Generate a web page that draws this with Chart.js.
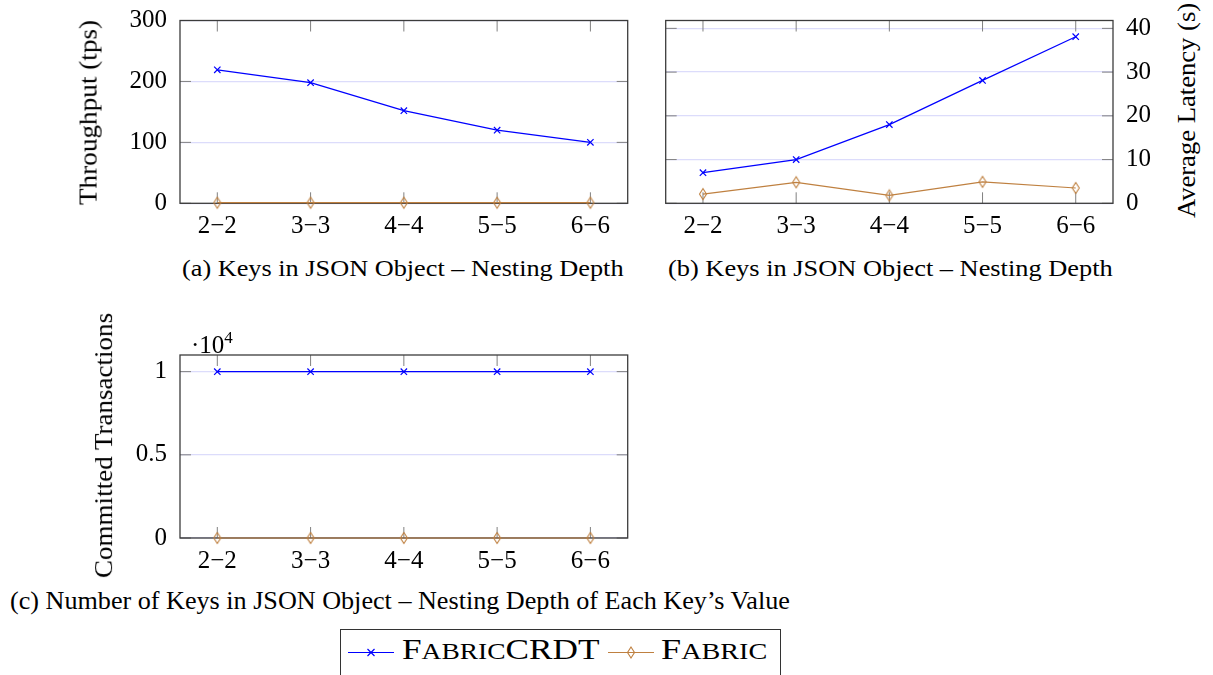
<!DOCTYPE html>
<html>
<head>
<meta charset="utf-8">
<script src="https://cdn.jsdelivr.net/npm/chart.js@4.4.1/dist/chart.umd.min.js"></script>
<style>
  html, body { margin: 0; padding: 0; background: #fff; overflow: hidden; }
  body { width: 1213px; height: 675px; position: relative; font-family: "Liberation Serif", "DejaVu Serif", serif; color: #000; }
  canvas { position: absolute; }
  .txt { position: absolute; white-space: nowrap; line-height: 1; transform-origin: left center; }
  .vt { position: absolute; white-space: nowrap; line-height: 1; font-size: 25px; }
  .sm { font-size: 0.78em; }
  #legend { position: absolute; left: 340px; top: 629px; width: 441px; height: 60px; border: 1.5px solid #333; box-sizing: border-box; }
  svg { position: absolute; }
</style>
</head>
<body>

<canvas id="chartA" width="540" height="250" style="left:100px; top:0px"></canvas>
<canvas id="chartB" width="500" height="250" style="left:660px; top:0px"></canvas>
<canvas id="chartC" width="540" height="250" style="left:100px; top:330px"></canvas>

<div class="vt" id="titleA" data-cx="88" data-cy="112.5" data-len="185">Throughput (tps)</div>
<div class="vt" id="titleB" data-cx="1186" data-cy="110.5" data-len="215">Average Latency (s)</div>
<div class="vt" id="titleC" data-cx="103.5" data-cy="445.5" data-len="265">Committed Transactions</div>

<div class="txt" id="capA" style="left:182px; top:257px; font-size:23px" data-w="441">(a) Keys in JSON Object – Nesting Depth</div>
<div class="txt" id="capB" style="left:668px; top:257px; font-size:23px" data-w="445">(b) Keys in JSON Object – Nesting Depth</div>
<div class="txt" id="capC" style="left:10px; top:588px; font-size:25px" data-w="780">(c) Number of Keys in JSON Object – Nesting Depth of Each Key’s Value</div>
<div class="txt" id="expC" style="left:191px; top:329px; font-size:25px">·10<sup style="font-size:17px; vertical-align:10px">4</sup></div>

<div id="legend"></div>
<svg width="48" height="20" style="left:348px; top:643px">
  <line x1="0" y1="9.5" x2="46" y2="9.5" stroke="#0000ff" stroke-width="1.2"/>
  <path d="M19.5 6 L26.5 13 M26.5 6 L19.5 13" stroke="#0000ff" stroke-width="1.2"/>
</svg>
<div class="txt" id="legCRDT" style="left:402px; top:635px; font-size:29px" data-w="198">F<span class="sm">ABRIC</span>CRDT</div>
<svg width="48" height="20" style="left:608px; top:643px">
  <line x1="0" y1="9.5" x2="46" y2="9.5" stroke="#bf8040" stroke-width="1.2"/>
  <path d="M23 4 L26.5 9.5 L23 15 L19.5 9.5 Z" fill="none" stroke="#bf8040" stroke-width="1.1"/>
</svg>
<div class="txt" id="legFabric" style="left:661px; top:635px; font-size:29px" data-w="106">F<span class="sm">ABRIC</span></div>

<script>
// Data
const xLabels = ['2−2', '3−3', '4−4', '5−5', '6−6'];

const throughputCRDT = [219, 198, 152, 120, 100];
const throughputFabric = [1, 1, 1, 1, 1];
const throughputTicks = [0, 100, 200, 300];

const latencyCRDT = [7.0, 10.0, 18.0, 28.1, 38.1];
const latencyFabric = [2.1, 4.8, 1.8, 4.9, 3.5];
const latencyTicks = [0, 10, 20, 30, 40];

const committedCRDT = [10000, 10000, 10000, 10000, 10000];
const committedFabric = [0, 0, 0, 0, 0];
const committedTicks = [0, 5000, 10000];

const BLUE = '#0000ff';
const BROWN = '#bf8040';
const GRID = '#dcdcfb';
const TICK_COLOR = '#808080';
const FRAME = '#3c3c3c';
const TICK_LEN = 11;
const FONT = { family: '"Liberation Serif", serif', size: 25 };

// tall open diamond like the pgfplots marker
function diamond(color) {
    const c = document.createElement('canvas');
    c.width = 10; c.height = 14;
    const g = c.getContext('2d');
    g.strokeStyle = color;
    g.lineWidth = 1.1;
    g.beginPath();
    g.moveTo(5, 1.5); g.lineTo(8.5, 7); g.lineTo(5, 12.5); g.lineTo(1.5, 7);
    g.closePath();
    g.stroke();
    return c;
}

function series(values, color, marker) {
    return {
        data: values.map((y, i) => ({ x: i, y })),
        borderColor: color,
        backgroundColor: color,
        borderWidth: 1.2,
        pointStyle: marker,
        pointRadius: 4.5,
        pointBorderWidth: 1.2,
        pointBorderColor: color,
        pointBackgroundColor: 'rgba(0,0,0,0)',
        tension: 0,
        clip: false
    };
}

// box around the plot area plus the inward tick marks
const framePlugin = {
    id: 'frame',
    beforeDatasetsDraw(chart) {
        const { ctx, chartArea: a, scales } = chart;
        const line = (x1, y1, x2, y2) => { ctx.beginPath(); ctx.moveTo(x1, y1); ctx.lineTo(x2, y2); ctx.stroke(); };
        ctx.save();
        ctx.strokeStyle = TICK_COLOR;
        ctx.lineWidth = 1;
        scales.x.ticks.forEach(t => {
            const px = scales.x.getPixelForValue(t.value);
            line(px, a.top, px, a.top + TICK_LEN);
            line(px, a.bottom, px, a.bottom - TICK_LEN);
        });
        scales.y.ticks.forEach(t => {
            const py = scales.y.getPixelForValue(t.value);
            line(a.left, py, a.left + TICK_LEN, py);
            line(a.right, py, a.right - TICK_LEN, py);
        });
        ctx.strokeStyle = FRAME;
        ctx.lineWidth = 1.3;
        ctx.strokeRect(a.left, a.top, a.right - a.left, a.bottom - a.top);
        ctx.restore();
    }
};

function makeChart(id, s) {
    return new Chart(document.getElementById(id), {
        type: 'line',
        data: {
            datasets: [
                series(s.crdt, BLUE, 'crossRot'),
                series(s.fabric, BROWN, diamond(BROWN))
            ]
        },
        options: {
            responsive: false,
            animation: false,
            layout: { padding: s.padding },
            plugins: { legend: { display: false }, tooltip: { enabled: false } },
            scales: {
                x: {
                    type: 'linear',
                    min: -0.4,
                    max: 4.4,
                    afterBuildTicks: ax => { ax.ticks = xLabels.map((_, i) => ({ value: i })); },
                    afterFit: ax => {
                        ax.height = s.xHeight;
                        ax.paddingLeft = 0;
                        ax.paddingRight = 0;
                    },
                    ticks: {
                        callback: v => xLabels[Math.round(v)],
                        font: FONT,
                        color: '#000',
                        padding: 0,
                        maxRotation: 0,
                        autoSkip: false
                    },
                    grid: { display: false },
                    border: { display: false }
                },
                y: {
                    position: s.yPos,
                    min: 0,
                    max: s.yMax,
                    afterBuildTicks: ax => { ax.ticks = s.yTicks.map(v => ({ value: v })); },
                    afterFit: ax => {
                        ax.width = s.yWidth;
                        // keep label overflow from pushing the plot box around
                        ax.paddingTop = 0;
                        ax.paddingBottom = 0;
                    },
                    ticks: {
                        callback: s.yFormat || (v => String(v)),
                        font: FONT,
                        color: '#000',
                        padding: 13
                    },
                    grid: { color: GRID, lineWidth: 1.3, drawTicks: false },
                    border: { display: false }
                }
            }
        },
        plugins: [framePlugin]
    });
}

makeChart('chartA', {
    crdt: throughputCRDT, fabric: throughputFabric,
    yTicks: throughputTicks, yMax: 300, yPos: 'left',
    yWidth: 80, xHeight: 46.7,
    padding: { left: 0, right: 12.3, top: 20.5, bottom: 0 }
});

makeChart('chartB', {
    crdt: latencyCRDT, fabric: latencyFabric,
    yTicks: latencyTicks, yMax: 41.8, yPos: 'right',
    yWidth: 47, xHeight: 46.7,
    padding: { left: 5.7, right: 0, top: 20.5, bottom: 0 }
});

makeChart('chartC', {
    crdt: committedCRDT, fabric: committedFabric,
    yTicks: committedTicks, yMax: 11000, yPos: 'left',
    yWidth: 80, xHeight: 42,
    yFormat: v => String(v / 10000),
    padding: { left: 0, right: 12.3, top: 25, bottom: 0 }
});

// stretch/condense text to the widths in the figure
document.querySelectorAll('.txt[data-w]').forEach(el => {
    const k = Number(el.dataset.w) / el.offsetWidth;
    el.style.transform = `scaleX(${k})`;
});

// rotated axis titles, centred on a point
document.querySelectorAll('.vt').forEach(el => {
    const k = Number(el.dataset.len) / el.offsetWidth;
    el.style.left = (Number(el.dataset.cx) - el.offsetWidth / 2) + 'px';
    el.style.top = (Number(el.dataset.cy) - el.offsetHeight / 2) + 'px';
    el.style.transform = `rotate(-90deg) scaleX(${k})`;
});
</script>
</body>
</html>
